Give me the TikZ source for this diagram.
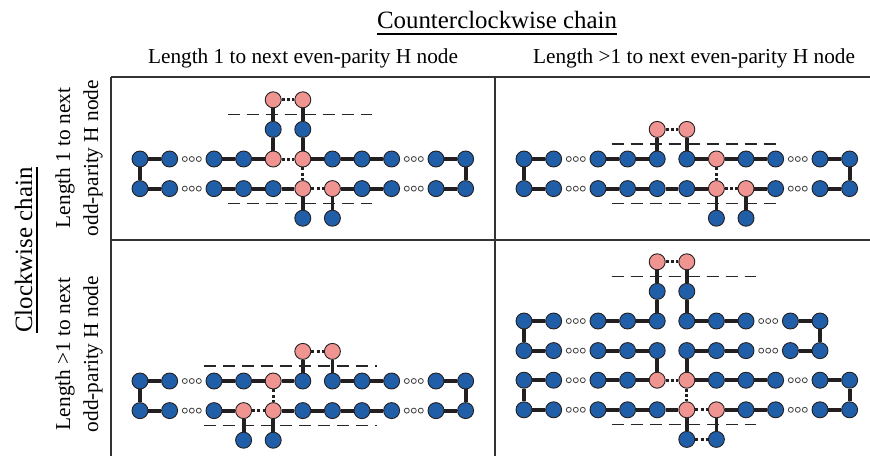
\documentclass[tikz,border=0pt]{standalone}
\usepackage{fontspec}
\setmainfont{Liberation Serif}
\usetikzlibrary{calc}
\definecolor{hBlue}{RGB}{33,94,168}
\definecolor{hPink}{RGB}{240,148,146}
\definecolor{hBond}{RGB}{35,31,32}
\tikzset{
  hb/.style={circle, draw=hBond, line width=0.9pt, fill=hBlue, minimum size=16pt, inner sep=0pt},
  hp/.style={hb, fill=hPink},
  bond/.style={line width=3.8pt, hBond},
  weak/.style={line width=3pt, hBond, dash pattern=on 3pt off 2.3pt},
  cut/.style={line width=1.6pt, black!85, dash pattern=on 12pt off 7pt},
  frame/.style={line width=2pt, black!80},
  hdlabel/.style={font=\fontsize{24.9}{30}\selectfont, inner sep=0pt},
  sublabel/.style={font=\fontsize{21.3}{28}\selectfont, inner sep=0pt, align=center}
}
% one chain row, standard columns; #3 = ids of the pink nodes
\newcommand{\hrow}[3]{%
  \foreach \c/\cx in {0/0,1/1,2/2.5,3/3.5,4/4.5,5/5.5,6/6.5,7/7.5,8/8.5,9/10,10/11} {%
    \gdef\hst{hb}%
    \foreach \q in {#3} {\ifnum\q=\c\relax\gdef\hst{hp}\fi}%
    \node[\hst] (#1\c) at (\cx,#2) {};
  }%
}
% three small open circles between two nodes
\newcommand{\gapdots}[2]{%
  \foreach \k in {-1,0,1}
    \draw[black!75, line width=0.8pt, fill=white] ($(#1)!0.5!(#2)$) ++(\k*7pt,0) circle (2.5pt);
}
\begin{document}
\begin{tikzpicture}[x=1pt, y=-1pt]
\useasboundingbox (0,0) rectangle (870,456);
% headings
\node[hdlabel, anchor=base] (ccw) at (497,28) {Counterclockwise chain};
\draw[line width=1.6pt] ([yshift=-6pt]ccw.base west) -- ([yshift=-6pt]ccw.base east);
\node[sublabel, anchor=base] (ccw1) at (303,63) {Length 1 to next even-parity H node};
\node[sublabel, anchor=base] (ccw2) at (694,63) {Length >1 to next even-parity H node};
\node[hdlabel, anchor=base, rotate=90] (cw) at (32,250) {Clockwise chain};
\draw[line width=1.6pt] ([xshift=5pt]cw.base west) -- ([xshift=5pt]cw.base east);
\node[sublabel, rotate=90] (cw1) at (79,158) {Length 1 to next\\odd-parity H node};
\node[sublabel, rotate=90] (cw2) at (79,354) {Length >1 to next\\odd-parity H node};
% table frame
\draw[frame] (111,77) -- (870,77);
\draw[frame] (111,240) -- (870,240);
\draw[frame] (111,77) -- (111,456);
\draw[frame] (495,77) -- (495,456);

% top left
\begin{scope}[shift={(140,159)}, x=29.6pt, y=-29.6pt]
\hrow{tl-a}{0}{4,5}
\hrow{tl-b}{1}{5,6}
\node[hb] (tl-ub1) at (4.5,-1) {};
\node[hb] (tl-ub2) at (5.5,-1) {};
\node[hp] (tl-tp1) at (4.5,-2) {};
\node[hp] (tl-tp2) at (5.5,-2) {};
\node[hb] (tl-db1) at (5.5,2) {};
\node[hb] (tl-db2) at (6.5,2) {};
\foreach \u/\v in {0/1,2/3,3/4,5/6,6/7,7/8,9/10} \draw[bond] (tl-a\u) -- (tl-a\v);
\foreach \u/\v in {0/1,2/3,3/4,4/5,6/7,7/8,9/10} \draw[bond] (tl-b\u) -- (tl-b\v);
\foreach \u/\v in {a0/b0,a10/b10,a4/ub1,ub1/tp1,a5/ub2,ub2/tp2,b5/db1,b6/db2} \draw[bond] (tl-\u) -- (tl-\v);
\foreach \u/\v in {a4/a5,b5/b6,tp1/tp2,a5/b5} \draw[weak] (tl-\u) -- (tl-\v);
\foreach \u/\v in {a1/a2,a8/a9,b1/b2,b8/b9} \gapdots{tl-\u}{tl-\v}
\draw[cut] (2.97,-1.5) -- (7.84,-1.5);
\draw[cut] (2.97,1.5) -- (7.84,1.5);
\end{scope}

% top right
\begin{scope}[shift={(524,159)}, x=29.6pt, y=-29.6pt]
\hrow{tr-a}{0}{6}
\hrow{tr-b}{1}{6,7}
\node[hp] (tr-tp1) at (4.5,-1) {};
\node[hp] (tr-tp2) at (5.5,-1) {};
\node[hb] (tr-db1) at (6.5,2) {};
\node[hb] (tr-db2) at (7.5,2) {};
\foreach \u/\v in {0/1,2/3,3/4,5/6,6/7,7/8,9/10} \draw[bond] (tr-a\u) -- (tr-a\v);
\foreach \u/\v in {0/1,2/3,3/4,4/5,5/6,7/8,9/10} \draw[bond] (tr-b\u) -- (tr-b\v);
\foreach \u/\v in {a0/b0,a10/b10,a4/tp1,a5/tp2,b6/db1,b7/db2} \draw[bond] (tr-\u) -- (tr-\v);
\foreach \u/\v in {b6/b7,tp1/tp2,a6/b6} \draw[weak] (tr-\u) -- (tr-\v);
\foreach \u/\v in {a1/a2,a8/a9,b1/b2,b8/b9} \gapdots{tr-\u}{tr-\v}
\draw[cut] (2.97,-0.5) -- (8.7,-0.5);
\draw[cut] (2.97,1.5) -- (8.7,1.5);
\end{scope}

% bottom left
\begin{scope}[shift={(140,381)}, x=29.6pt, y=-29.6pt]
\hrow{bl-a}{0}{4}
\hrow{bl-b}{1}{3,4}
\node[hp] (bl-tp1) at (5.5,-1) {};
\node[hp] (bl-tp2) at (6.5,-1) {};
\node[hb] (bl-db1) at (3.5,2) {};
\node[hb] (bl-db2) at (4.5,2) {};
\foreach \u/\v in {0/1,2/3,3/4,4/5,6/7,7/8,9/10} \draw[bond] (bl-a\u) -- (bl-a\v);
\foreach \u/\v in {0/1,2/3,4/5,5/6,6/7,7/8,9/10} \draw[bond] (bl-b\u) -- (bl-b\v);
\foreach \u/\v in {a0/b0,a10/b10,a5/tp1,a6/tp2,b3/db1,b4/db2} \draw[bond] (bl-\u) -- (bl-\v);
\foreach \u/\v in {b3/b4,tp1/tp2,a4/b4} \draw[weak] (bl-\u) -- (bl-\v);
\foreach \u/\v in {a1/a2,a8/a9,b1/b2,b8/b9} \gapdots{bl-\u}{bl-\v}
\draw[cut] (2.16,-0.5) -- (8.0,-0.5);
\draw[cut] (2.16,1.5) -- (8.0,1.5);
\end{scope}

% bottom right
\begin{scope}[shift={(524,321)}, x=29.6pt, y=-29.6pt]
\foreach \r/\ry in {a/0,b/1}
  \foreach \c/\cx in {0/0,1/1,2/2.5,3/3.5,4/4.5,5/5.5,6/6.5,7/7.5,8/9,9/10}
    \node[hb] (br-\r\c) at (\cx,\ry) {};
\hrow{br-c}{2}{4,5}
\hrow{br-d}{3}{5,6}
\node[hb] (br-ub1) at (4.5,-1) {};
\node[hb] (br-ub2) at (5.5,-1) {};
\node[hp] (br-tp1) at (4.5,-2) {};
\node[hp] (br-tp2) at (5.5,-2) {};
\node[hb] (br-db1) at (5.5,4) {};
\node[hb] (br-db2) at (6.5,4) {};
\foreach \r in {a,b}
  \foreach \u/\v in {0/1,2/3,3/4,5/6,6/7,8/9} \draw[bond] (br-\r\u) -- (br-\r\v);
\foreach \u/\v in {0/1,2/3,3/4,5/6,6/7,7/8,9/10} \draw[bond] (br-c\u) -- (br-c\v);
\foreach \u/\v in {0/1,2/3,3/4,4/5,6/7,7/8,9/10} \draw[bond] (br-d\u) -- (br-d\v);
\foreach \u/\v in {a0/b0,a9/b9,c0/d0,c10/d10,a4/ub1,ub1/tp1,a5/ub2,ub2/tp2,b4/c4,b5/c5,d5/db1,d6/db2} \draw[bond] (br-\u) -- (br-\v);
\foreach \u/\v in {c4/c5,d5/d6,tp1/tp2,c5/d5,db1/db2} \draw[weak] (br-\u) -- (br-\v);
\foreach \u/\v in {a1/a2,a7/a8,b1/b2,b7/b8,c1/c2,c8/c9,d1/d2,d8/d9} \gapdots{br-\u}{br-\v}
\draw[cut] (2.97,-1.5) -- (7.84,-1.5);
\draw[cut] (2.97,3.5) -- (7.84,3.5);
\end{scope}
\end{tikzpicture}
\end{document}
